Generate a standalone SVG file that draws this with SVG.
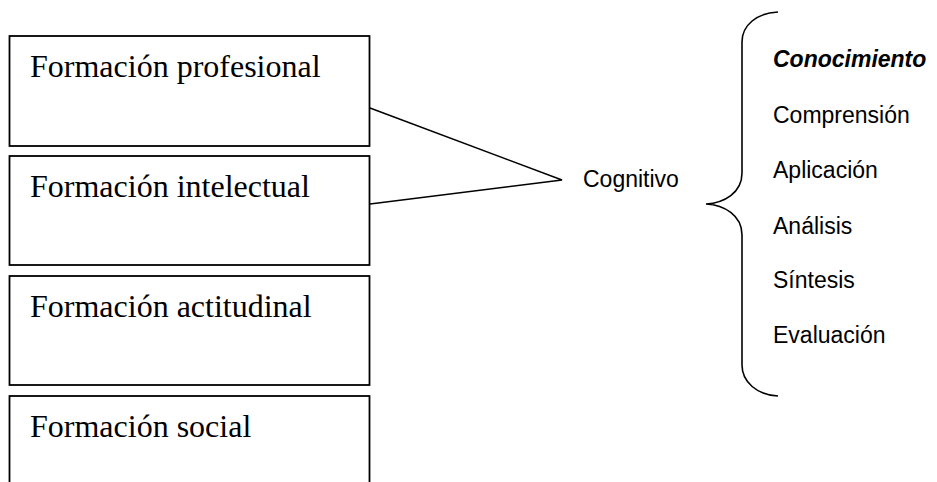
<svg xmlns="http://www.w3.org/2000/svg" width="937" height="482" viewBox="0 0 937 482">
<style>
.box{fill:#fff;stroke:#000;stroke-width:1.8}
.ft{font-family:"Liberation Serif","Times New Roman",serif;font-size:32px;fill:#000}
.st{font-family:"Liberation Sans",Arial,sans-serif;font-size:23px;fill:#000}
.ln{fill:none;stroke:#000;stroke-width:1.6}
</style>
<rect width="937" height="482" fill="#fff"/>
<g id="n1"><rect class="box" x="9.5" y="36" width="360" height="110"/><text class="ft" x="30" y="77">Formación profesional</text></g>
<g id="n2"><rect class="box" x="9.5" y="156" width="360" height="109"/><text class="ft" x="30" y="197">Formación intelectual</text></g>
<g id="n3"><rect class="box" x="9.5" y="276" width="360" height="109"/><text class="ft" x="30" y="317">Formación actitudinal</text></g>
<g id="n4"><rect class="box" x="9.5" y="396" width="360" height="110"/><text class="ft" x="30" y="437">Formación social</text></g>
<g id="n5"><text class="st" x="583" y="187">Cognitivo</text></g>
<g id="n6">
<text class="st" x="773" y="67" font-weight="bold" font-style="italic">Conocimiento</text>
<text class="st" x="773" y="123">Comprensión</text>
<text class="st" x="773" y="178">Aplicación</text>
<text class="st" x="773" y="234">Análisis</text>
<text class="st" x="773" y="288">Síntesis</text>
<text class="st" x="773" y="343">Evaluación</text>
</g>
<g id="connectors">
<polyline class="ln" points="370,108 562,180 370,204"/>
<path class="ln" d="M778,12 C757,13 742,25 742,42 L742,173 C742,193 724,203 706,204 C724,205 742,215 742,235 L742,365 C742,382 757,395 778,396"/>
</g>
</svg>
